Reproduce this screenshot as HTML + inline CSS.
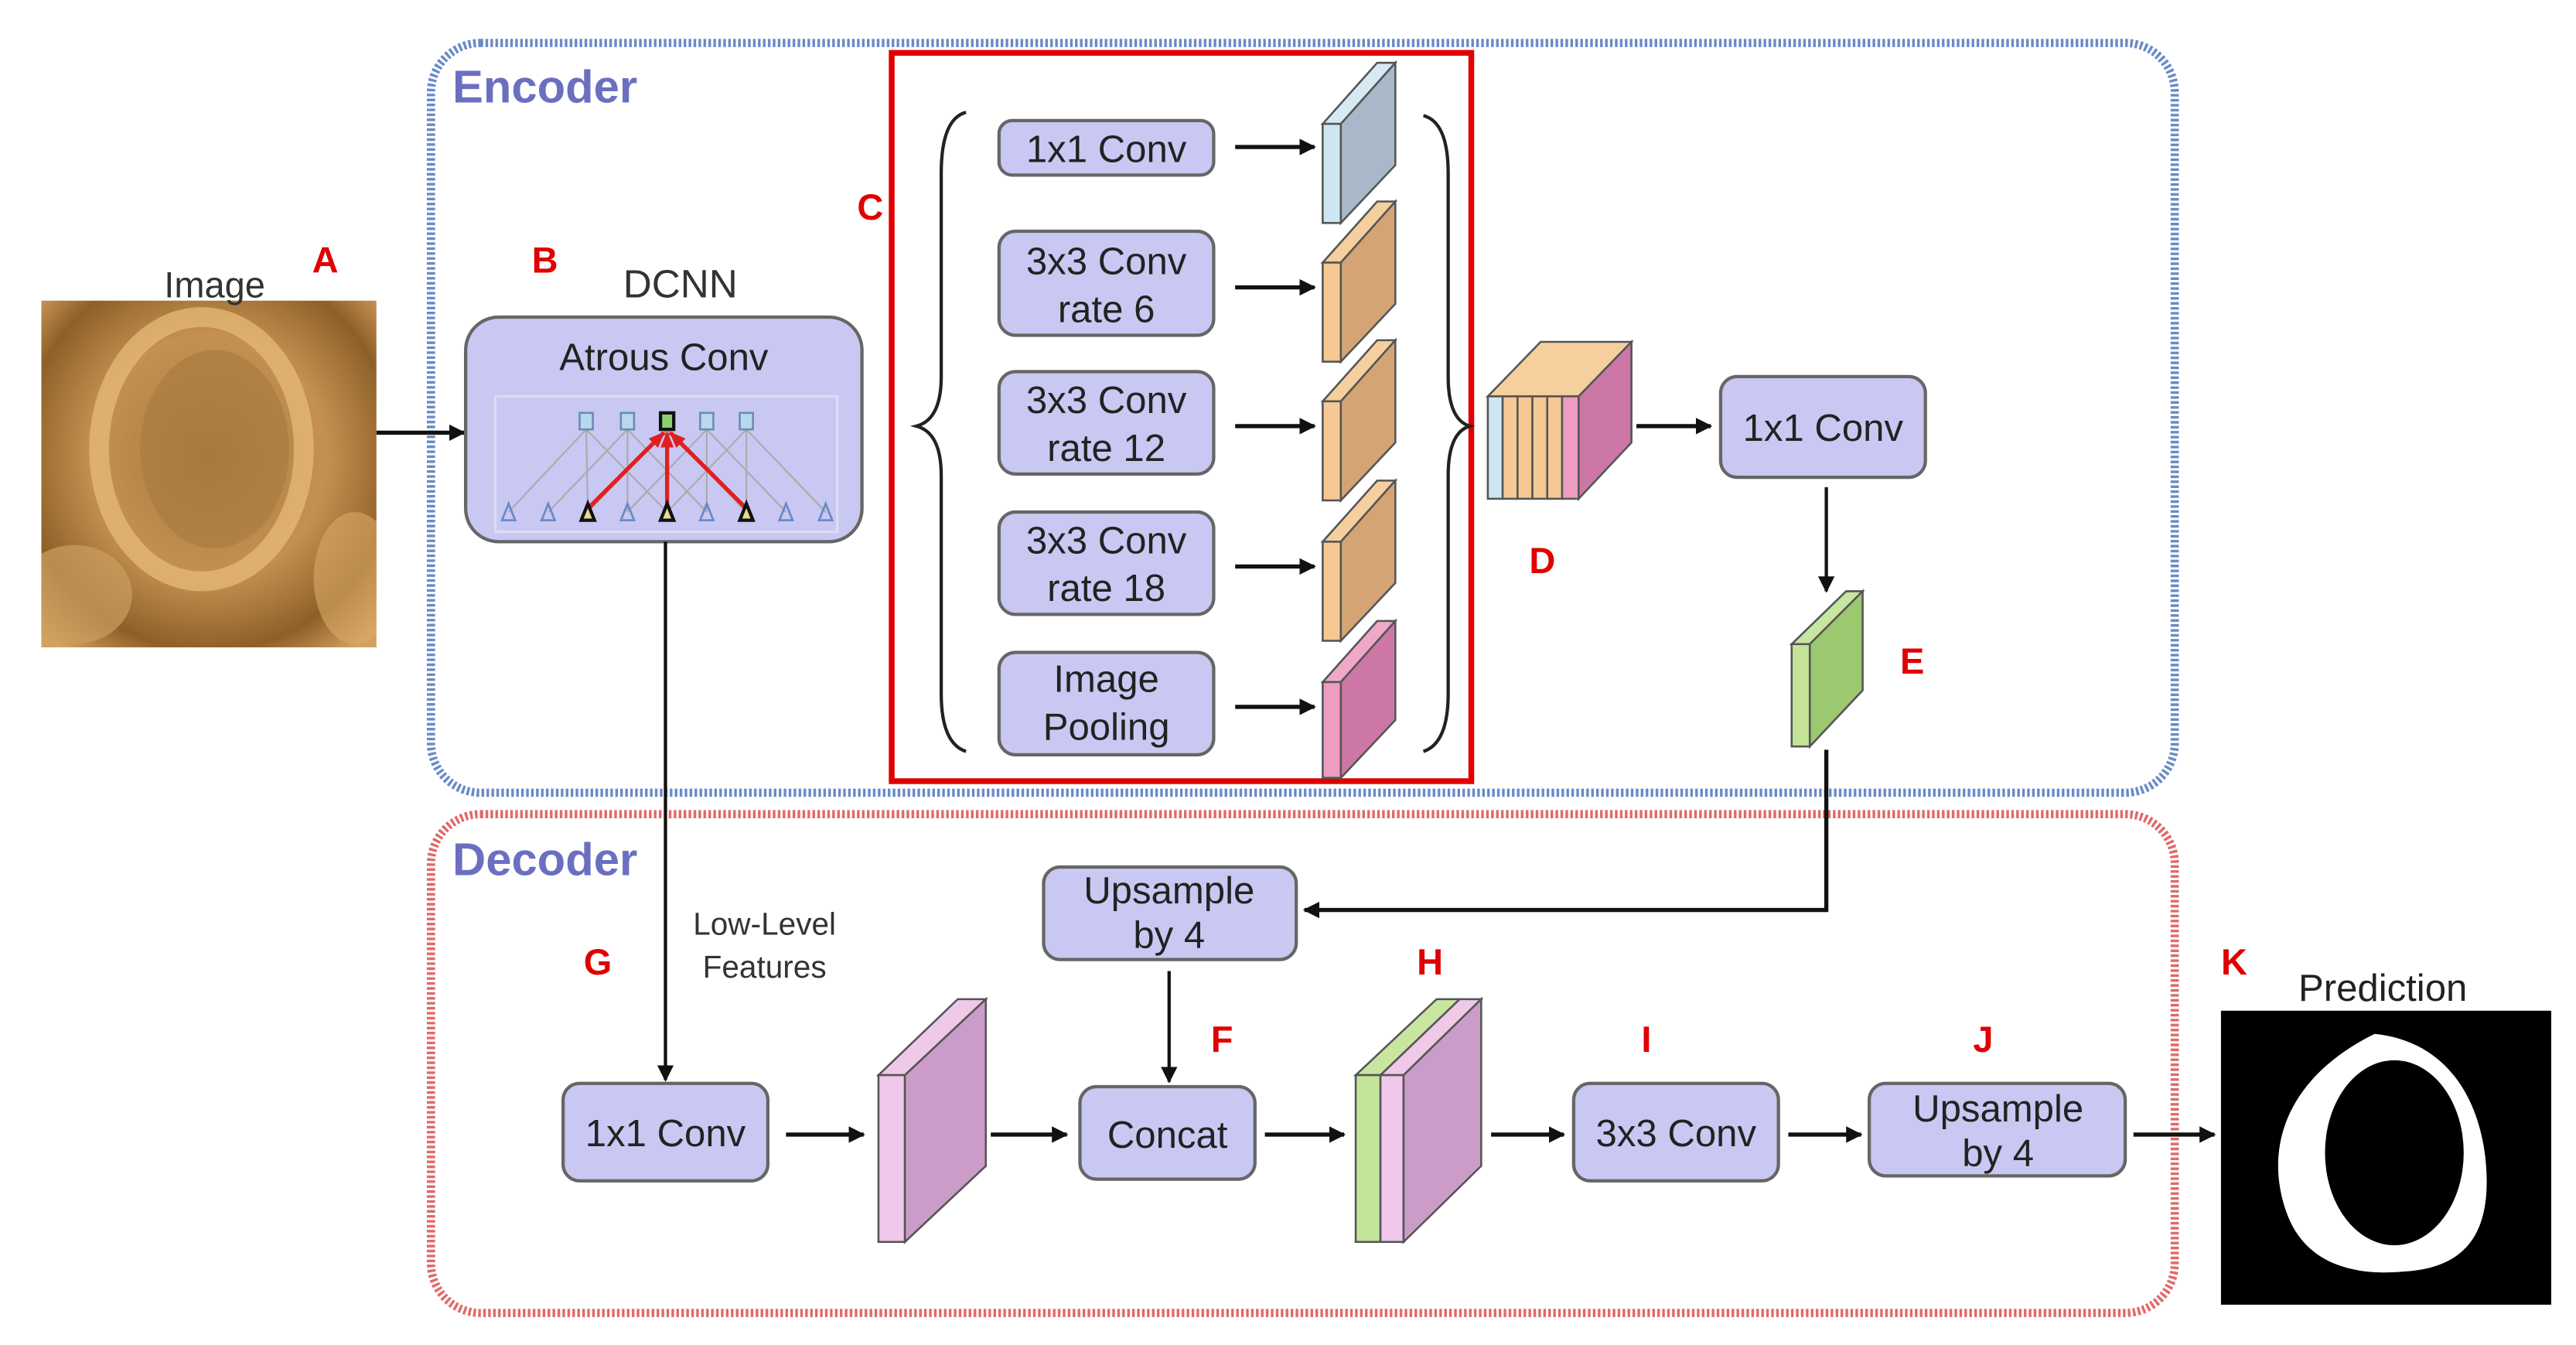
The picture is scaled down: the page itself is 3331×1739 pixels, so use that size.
<!DOCTYPE html>
<html><head><meta charset="utf-8"><style>html,body{margin:0;padding:0;background:#fff}svg{display:block}</style></head>
<body>
<svg width="3331" height="1739" viewBox="0 0 1560 814.4" xmlns="http://www.w3.org/2000/svg" font-family="Liberation Sans, Arial, sans-serif">
<defs>
<marker id="ah" markerWidth="10" markerHeight="10" refX="9" refY="5" orient="auto" markerUnits="userSpaceOnUse"><path d="M0,0 L10,5 L0,10 z" fill="#111"/></marker>
<marker id="ar" markerWidth="10" markerHeight="10" refX="9" refY="5" orient="auto" markerUnits="userSpaceOnUse"><path d="M0,1 L10,5 L0,9 z" fill="#e02020"/></marker>
<radialGradient id="img" cx="0.5" cy="0.45" r="0.7"><stop offset="0" stop-color="#a87a3c"/><stop offset="0.5" stop-color="#c49150"/><stop offset="0.8" stop-color="#8e6028"/><stop offset="1" stop-color="#d4a060"/></radialGradient>
<clipPath id="ic"><rect x="25" y="182" width="203" height="210"/></clipPath>
</defs>
<rect width="1560" height="815" fill="#fff"/>

<rect x="261" y="26" width="1056" height="454" rx="30" fill="none" stroke="#6a8bc8" stroke-width="5" stroke-dasharray="1.6 1.4"/>
<text x="274" y="62" font-size="28" font-weight="bold" fill="#6b6fc0">Encoder</text>
<rect x="261" y="493" width="1056" height="302" rx="30" fill="none" stroke="#e06a6a" stroke-width="5" stroke-dasharray="1.6 1.4"/>
<text x="274" y="530" font-size="28" font-weight="bold" fill="#6b6fc0">Decoder</text>

<g clip-path="url(#ic)">
<rect x="25" y="182" width="203" height="210" fill="url(#img)"/>
<ellipse cx="122" cy="272" rx="62" ry="80" fill="none" stroke="#e8bd7a" stroke-width="12" opacity="0.7"/>
<ellipse cx="130" cy="272" rx="45" ry="60" fill="#a57a40" opacity="0.6"/>
<ellipse cx="45" cy="360" rx="35" ry="30" fill="#caa060" opacity="0.7"/>
<ellipse cx="215" cy="350" rx="25" ry="40" fill="#d8aa66" opacity="0.6"/>
</g>
<text x="130" y="180" font-size="22" fill="#333" text-anchor="middle">Image</text>
<text x="197" y="165" font-size="22" font-weight="bold" fill="#e00000" text-anchor="middle">A</text>
<line x1="228" y1="262" x2="281" y2="262" stroke="#111" stroke-width="2.5" marker-end="url(#ah)"/>

<text x="330" y="165" font-size="22" font-weight="bold" fill="#e00000" text-anchor="middle">B</text>
<text x="412" y="180" font-size="24" fill="#333" text-anchor="middle">DCNN</text>
<rect x="282" y="192" width="240" height="136" rx="20" fill="#c9c8f2" stroke="#666" stroke-width="2"/>
<text x="402" y="224" font-size="23" fill="#222" text-anchor="middle">Atrous Conv</text>
<rect x="300" y="240" width="207" height="82" fill="none" stroke="#dcdcf5" stroke-width="1.5"/>
<g stroke="#aaa" stroke-width="1">
<line x1="308" y1="310" x2="355" y2="260"/><line x1="332" y1="310" x2="380" y2="260"/><line x1="356" y1="310" x2="404" y2="260"/>
<line x1="356" y1="310" x2="355" y2="260"/><line x1="380" y1="310" x2="428" y2="260"/><line x1="404" y1="310" x2="452" y2="260"/>
<line x1="404" y1="310" x2="355" y2="260"/><line x1="428" y1="310" x2="380" y2="260"/><line x1="452" y1="310" x2="452" y2="260"/>
<line x1="452" y1="310" x2="404" y2="260"/><line x1="476" y1="310" x2="428" y2="260"/><line x1="500" y1="310" x2="452" y2="260"/>
<line x1="380" y1="310" x2="380" y2="260"/><line x1="428" y1="310" x2="428" y2="260"/>
</g>
<g stroke="#e02020" stroke-width="2.5" marker-end="url(#ar)">
<line x1="356" y1="308" x2="402" y2="262"/><line x1="404" y1="308" x2="404" y2="262"/><line x1="452" y1="308" x2="406" y2="262"/>
</g>
<g fill="#b8d8f0" stroke="#6a8ab8" stroke-width="1.2">
<rect x="351" y="250" width="8" height="10"/><rect x="376" y="250" width="8" height="10"/><rect x="424" y="250" width="8" height="10"/><rect x="448" y="250" width="8" height="10"/>
</g>
<rect x="400" y="250" width="8" height="10" fill="#8cd070" stroke="#111" stroke-width="2"/>
<g fill="none" stroke="#6a8ac8" stroke-width="1.3">
<path d="M308,305 l-4,10 h8 z"/><path d="M332,305 l-4,10 h8 z"/><path d="M380,305 l-4,10 h8 z"/><path d="M428,305 l-4,10 h8 z"/><path d="M476,305 l-4,10 h8 z"/><path d="M500,305 l-4,10 h8 z"/>
</g>
<g fill="#e8d890" stroke="#111" stroke-width="2">
<path d="M356,305 l-4,10 h8 z"/><path d="M404,305 l-4,10 h8 z"/><path d="M452,305 l-4,10 h8 z"/>
</g>

<rect x="540" y="32" width="351" height="441" fill="none" stroke="#e00000" stroke-width="3.5"/>
<text x="527" y="133" font-size="22" font-weight="bold" fill="#e00000" text-anchor="middle">C</text>
<path d="M585,68 Q570,72 570,105 L570,228 Q570,254 555,258 Q570,262 570,288 L570,420 Q570,450 585,455" fill="none" stroke="#222" stroke-width="2"/>
<path d="M862,70 Q877,74 877,105 L877,228 Q877,254 890,258 Q877,262 877,288 L877,420 Q877,450 862,455" fill="none" stroke="#222" stroke-width="2"/>

<g fill="#c9c8f2" stroke="#666" stroke-width="2">
<rect x="605" y="73" width="130" height="33" rx="8"/>
<rect x="605" y="140" width="130" height="63" rx="10"/>
<rect x="605" y="225" width="130" height="62" rx="10"/>
<rect x="605" y="310" width="130" height="62" rx="10"/>
<rect x="605" y="395" width="130" height="62" rx="10"/>
</g>
<g font-size="23" fill="#222" text-anchor="middle">
<text x="670" y="98">1x1 Conv</text>
<text x="670" y="166">3x3 Conv</text><text x="670" y="195">rate 6</text>
<text x="670" y="250">3x3 Conv</text><text x="670" y="279">rate 12</text>
<text x="670" y="335">3x3 Conv</text><text x="670" y="364">rate 18</text>
<text x="670" y="419">Image</text><text x="670" y="448">Pooling</text>
</g>
<g stroke="#111" stroke-width="2.5" marker-end="url(#ah)">
<line x1="748" y1="89" x2="796" y2="89"/><line x1="748" y1="174" x2="796" y2="174"/><line x1="748" y1="258" x2="796" y2="258"/><line x1="748" y1="343" x2="796" y2="343"/><line x1="748" y1="428" x2="796" y2="428"/>
</g>
<g stroke="#555" stroke-width="1.2">
<polygon points="801,75 834,38 845,38 812,75" fill="#d6eaf4"/><rect x="801" y="75" width="11" height="60" fill="#cde6f2"/><polygon points="812,75 845,38 845,100 812,135" fill="#a8b8c8"/>
<polygon points="801,159 834,122 845,122 812,159" fill="#f5cf9e"/><rect x="801" y="159" width="11" height="60" fill="#f5c894"/><polygon points="812,159 845,122 845,184 812,219" fill="#d4a474"/>
<polygon points="801,243 834,206 845,206 812,243" fill="#f5cf9e"/><rect x="801" y="243" width="11" height="60" fill="#f5c894"/><polygon points="812,243 845,206 845,268 812,303" fill="#d4a474"/>
<polygon points="801,328 834,291 845,291 812,328" fill="#f5cf9e"/><rect x="801" y="328" width="11" height="60" fill="#f5c894"/><polygon points="812,328 845,291 845,353 812,388" fill="#d4a474"/>
<polygon points="801,413 834,376 845,376 812,413" fill="#f0a8c8"/><rect x="801" y="413" width="11" height="58" fill="#ee9cc2"/><polygon points="812,413 845,376 845,436 812,471" fill="#cc77a6"/>
</g>

<g stroke="#555" stroke-width="1.2">
<polygon points="901,240 933,207 988,207 956,240" fill="#f5cf9e"/>
<rect x="901" y="240" width="9" height="62" fill="#cde6f2"/>
<rect x="910" y="240" width="9" height="62" fill="#f5c894"/>
<rect x="919" y="240" width="9" height="62" fill="#f5c894"/>
<rect x="928" y="240" width="9" height="62" fill="#f5c894"/>
<rect x="937" y="240" width="9" height="62" fill="#f5c894"/>
<rect x="946" y="240" width="10" height="62" fill="#ee9cc2"/>
<polygon points="956,240 988,207 988,268 956,302" fill="#cc77a6"/>
</g>
<text x="934" y="347" font-size="22" font-weight="bold" fill="#e00000" text-anchor="middle">D</text>
<line x1="991" y1="258" x2="1036" y2="258" stroke="#111" stroke-width="2.5" marker-end="url(#ah)"/>
<rect x="1042" y="228" width="124" height="61" rx="10" fill="#c9c8f2" stroke="#666" stroke-width="2"/>
<text x="1104" y="267" font-size="23" fill="#222" text-anchor="middle">1x1 Conv</text>
<line x1="1106" y1="295" x2="1106" y2="358" stroke="#111" stroke-width="2" marker-end="url(#ah)"/>
<g stroke="#555" stroke-width="1.2">
<polygon points="1085,390 1118,358 1128,358 1096,390" fill="#c8e6a0"/>
<rect x="1085" y="390" width="11" height="62" fill="#c4e49a"/>
<polygon points="1096,390 1128,358 1128,418 1096,452" fill="#9cc870"/>
</g>
<text x="1158" y="408" font-size="22" font-weight="bold" fill="#e00000" text-anchor="middle">E</text>
<polyline points="1106,454 1106,551 790,551" fill="none" stroke="#111" stroke-width="2.5" marker-end="url(#ah)"/>

<line x1="403" y1="328" x2="403" y2="654" stroke="#111" stroke-width="2" marker-end="url(#ah)"/>
<text x="463" y="566" font-size="19" fill="#333" text-anchor="middle">Low-Level</text>
<text x="463" y="592" font-size="19" fill="#333" text-anchor="middle">Features</text>
<text x="362" y="590" font-size="22" font-weight="bold" fill="#e00000" text-anchor="middle">G</text>
<rect x="632" y="525" width="153" height="56" rx="10" fill="#c9c8f2" stroke="#666" stroke-width="2"/>
<text x="708" y="547" font-size="23" fill="#222" text-anchor="middle">Upsample</text>
<text x="708" y="574" font-size="23" fill="#222" text-anchor="middle">by 4</text>
<line x1="708" y1="588" x2="708" y2="655" stroke="#111" stroke-width="2" marker-end="url(#ah)"/>
<text x="740" y="637" font-size="22" font-weight="bold" fill="#e00000" text-anchor="middle">F</text>
<text x="866" y="590" font-size="22" font-weight="bold" fill="#e00000" text-anchor="middle">H</text>
<text x="997" y="637" font-size="22" font-weight="bold" fill="#e00000" text-anchor="middle">I</text>
<text x="1201" y="637" font-size="22" font-weight="bold" fill="#e00000" text-anchor="middle">J</text>
<text x="1353" y="590" font-size="22" font-weight="bold" fill="#e00000" text-anchor="middle">K</text>

<g fill="#c9c8f2" stroke="#666" stroke-width="2">
<rect x="341" y="656" width="124" height="59" rx="10"/>
<rect x="654" y="658" width="106" height="56" rx="10"/>
<rect x="953" y="656" width="124" height="59" rx="10"/>
<rect x="1132" y="656" width="155" height="56" rx="10"/>
</g>
<g font-size="23" fill="#222" text-anchor="middle">
<text x="403" y="694">1x1 Conv</text>
<text x="707" y="695">Concat</text>
<text x="1015" y="694">3x3 Conv</text>
<text x="1210" y="679">Upsample</text><text x="1210" y="706">by 4</text>
</g>
<g stroke="#555" stroke-width="1.2">
<polygon points="532,651 580,605 597,605 548,651" fill="#f0c8e8"/>
<rect x="532" y="651" width="16" height="101" fill="#f0c8ec"/>
<polygon points="548,651 597,605 597,706 548,752" fill="#cc9cc8"/>
</g>
<g stroke="#555" stroke-width="1.2">
<polygon points="821,651 870,605 884,605 836,651" fill="#c8e6a0"/>
<rect x="821" y="651" width="15" height="101" fill="#c4e49a"/>
<polygon points="836,651 884,605 897,605 850,651" fill="#f0c8e8"/>
<rect x="836" y="651" width="14" height="101" fill="#f0c8ec"/>
<polygon points="850,651 897,605 897,706 850,752" fill="#cc9cc8"/>
</g>
<g stroke="#111" stroke-width="2.5" marker-end="url(#ah)">
<line x1="476" y1="687" x2="523" y2="687"/>
<line x1="600" y1="687" x2="646" y2="687"/>
<line x1="766" y1="687" x2="814" y2="687"/>
<line x1="903" y1="687" x2="947" y2="687"/>
<line x1="1083" y1="687" x2="1127" y2="687"/>
<line x1="1292" y1="687" x2="1341" y2="687"/>
</g>
<text x="1443" y="606" font-size="23" fill="#222" text-anchor="middle">Prediction</text>
<rect x="1345" y="612" width="200" height="178" fill="#000"/>
<path d="M1438,626 C1478,630 1500,660 1505,700 C1510,745 1495,768 1455,770 C1420,773 1395,762 1385,735 C1372,700 1380,655 1438,626 Z" fill="#fff"/>
<ellipse cx="1450" cy="698" rx="42" ry="56" fill="#000"/>
</svg>
</body></html>
